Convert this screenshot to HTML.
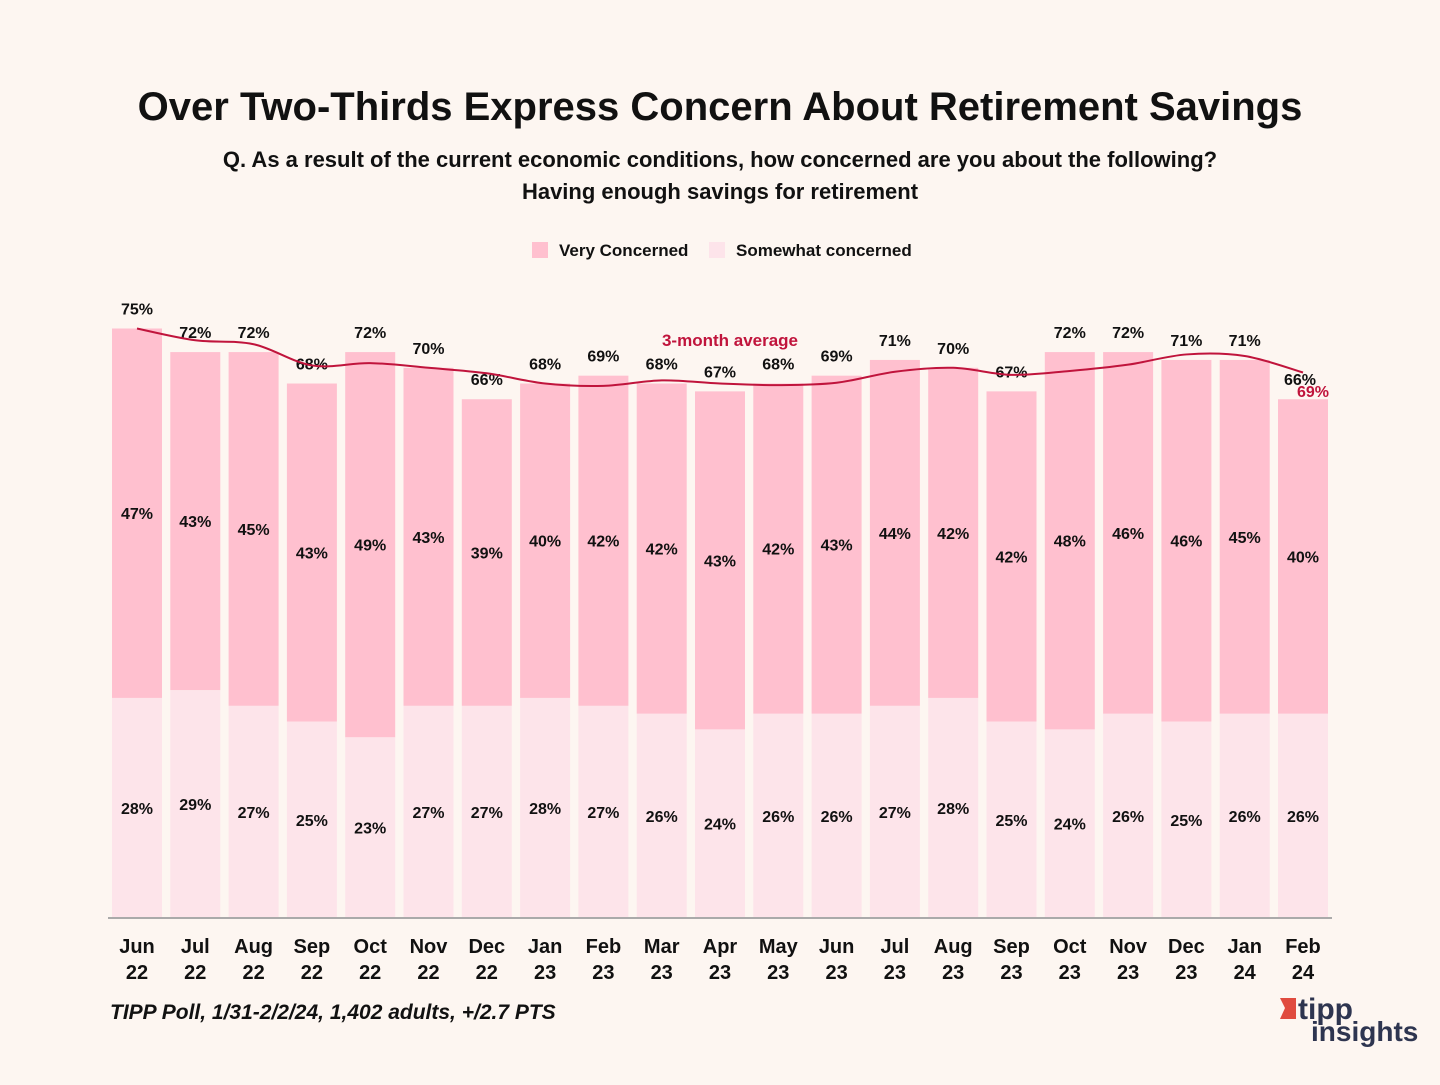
<!DOCTYPE html>
<html><head><meta charset="utf-8"><style>
body{margin:0;background:#fdf6f1;font-family:"Liberation Sans","DejaVu Sans",sans-serif;}
svg text{font-family:"Liberation Sans","DejaVu Sans",sans-serif;}
</style></head><body>
<svg id="c" width="1440" height="1080" xmlns="http://www.w3.org/2000/svg">
<rect width="1440" height="1080" fill="#fdf6f1"/>
<text x="720" y="120" text-anchor="middle" font-size="40" font-weight="bold" fill="#111">Over Two-Thirds Express Concern About Retirement Savings</text>
<text x="720" y="167" text-anchor="middle" font-size="22" font-weight="bold" fill="#111">Q. As a result of the current economic conditions, how concerned are you about the following?</text>
<text x="720" y="199" text-anchor="middle" font-size="22" font-weight="bold" fill="#111">Having enough savings for retirement</text>
<g>
<rect x="532" y="242" width="16" height="16" fill="#ffc0cf"/>
<text x="559" y="256" font-size="17" font-weight="bold" fill="#111">Very Concerned</text>
<rect x="709" y="242" width="16" height="16" fill="#fde4ea"/>
<text x="736" y="256" font-size="17" font-weight="bold" fill="#111">Somewhat concerned</text>
</g>
<g id="bars"></g>
<line x1="108" y1="918" x2="1332" y2="918" stroke="#aaa" stroke-width="2"/>
<text x="110" y="1019" font-size="21" font-weight="bold" font-style="italic" fill="#111">TIPP Poll, 1/31-2/2/24, 1,402 adults, +/2.7 PTS</text>
<g>
<polygon points="1280,998 1296,998 1296,1019 1280,1019 1285,1008" fill="#e04b3f"/>
<text x="1298" y="1019" font-size="30" font-weight="bold" fill="#2e3550">tipp</text>
<text x="1311" y="1041" font-size="28" font-weight="bold" fill="#2e3550">insights</text>
</g>
</svg>
<script>
const months=["Jun","Jul","Aug","Sep","Oct","Nov","Dec","Jan","Feb","Mar","Apr","May","Jun","Jul","Aug","Sep","Oct","Nov","Dec","Jan","Feb"];
const years=["22","22","22","22","22","22","22","23","23","23","23","23","23","23","23","23","23","23","23","24","24"];
const veryConcerned=[47,43,45,43,49,43,39,40,42,42,43,42,43,44,42,42,48,46,46,45,40];
const somewhatConcerned=[28,29,27,25,23,27,27,28,27,26,24,26,26,27,28,25,24,26,25,26,26];
const totals=[75,72,72,68,72,70,66,68,69,68,67,68,69,71,70,67,72,72,71,71,66];
const avg3=[75,73.5,73,70.3,70.6,70,69.3,68,67.7,68.4,68,67.8,68.1,69.5,70,69.1,69.6,70.4,71.7,71.5,69.4];
const avgLastLabel="69%";
const NS="http://www.w3.org/2000/svg";
const g=document.getElementById('bars');
const x=i=>137+i*58.3;
const y=v=>918-v*7.86;
const BW=50;
function el(t,a){const e=document.createElementNS(NS,t);for(const k in a)e.setAttribute(k,a[k]);g.appendChild(e);return e;}
function txt(s,xx,yy,sz,col,w){const e=el('text',{x:xx,y:yy,'text-anchor':'middle','font-size':sz,'font-weight':w||'bold',fill:col||'#111'});e.textContent=s;return e;}
months.forEach((m,i)=>{
  const sw=somewhatConcerned[i],vc=veryConcerned[i];
  const b1=el('rect',{x:x(i)-BW/2,y:y(sw),width:BW,height:918-y(sw),fill:'#fde4ea'});
  
  
  const b2=el('rect',{x:x(i)-BW/2,y:y(sw+vc),width:BW,height:y(sw)-y(sw+vc),fill:'#ffc0cf'});
  
  
  const l1=txt(sw+'%',x(i),(918+y(sw))/2+6,16);
  
  
  const l2=txt(vc+'%',x(i),(y(sw)+y(sw+vc))/2+6,16);
  
  
  const l3=txt(totals[i]+'%',x(i)+(i===20?-3:0),y(sw+vc)-14,16);
  
  
  const t1=txt(m,x(i),953,20);
  
  
  const t2=txt(years[i],x(i),979,20);
  
  
});
const pts=avg3.map((v,i)=>[x(i),y(v)]);
let d='M'+pts[0][0]+','+pts[0][1];
for(let i=0;i<pts.length-1;i++){
  const p0=pts[Math.max(0,i-1)],p1=pts[i],p2=pts[i+1],p3=pts[Math.min(pts.length-1,i+2)];
  const c1=[p1[0]+(p2[0]-p0[0])/6,p1[1]+(p2[1]-p0[1])/6];
  const c2=[p2[0]-(p3[0]-p1[0])/6,p2[1]-(p3[1]-p1[1])/6];
  d+=` C${c1[0]},${c1[1]} ${c2[0]},${c2[1]} ${p2[0]},${p2[1]}`;
}
const ln=el('path',{d:d,fill:'none',stroke:'#c0143c','stroke-width':2});


const al=txt('3-month average',730,346,17,'#c0143c');


const ll=txt(avgLastLabel,x(20)+10,397,16,'#c0143c');


</script>
</body></html>
